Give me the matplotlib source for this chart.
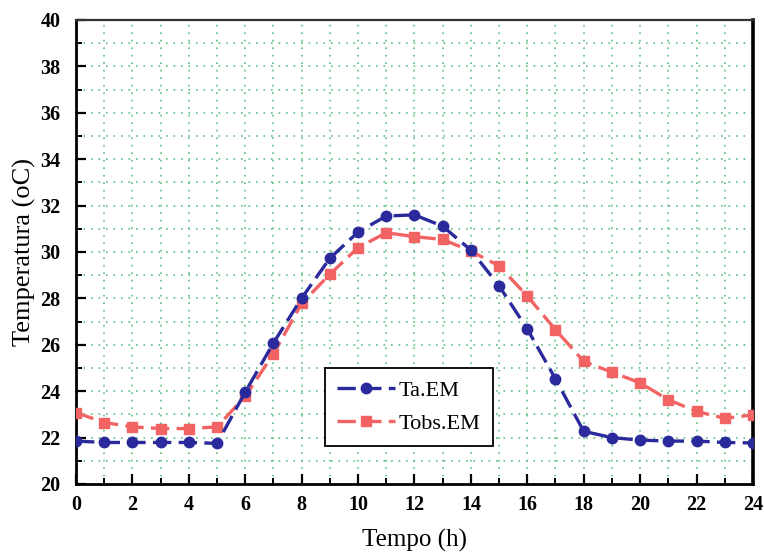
import matplotlib
matplotlib.use("Agg")
import matplotlib.pyplot as plt
from matplotlib.ticker import MultipleLocator

hours = list(range(0, 25))
ta_em = [21.85, 21.79, 21.79, 21.79, 21.79, 21.75, 23.96, 26.08, 28.01, 29.73,
         30.86, 31.55, 31.6, 31.11, 30.08, 28.54, 26.68, 24.53, 22.27, 22.0,
         21.89, 21.85, 21.85, 21.79, 21.77]
tobs_em = [23.08, 22.65, 22.46, 22.39, 22.39, 22.46, 23.78, 25.61, 27.78, 29.04,
           30.19, 30.83, 30.66, 30.54, 30.04, 29.4, 28.1, 26.65, 25.28, 24.82,
           24.36, 23.63, 23.13, 22.83, 22.98]
series_labels = ["Ta.EM", "Tobs.EM"]
xlabel = "Tempo (h)"
ylabel = "Temperatura (oC)"

plt.rcParams['font.family'] = ['Liberation Serif', 'DejaVu Serif']

fig = plt.figure(figsize=(7.64, 5.52), dpi=100)
ax = fig.add_axes([0.0995, 0.1232, 0.886, 0.8406])

blue = "#2a2a9c"
red = "#f26464"
ax.plot(hours, ta_em, color=blue, linestyle=(0, (5.5, 2.2)), linewidth=2.4,
        marker='o', markersize=7.5, markerfacecolor=blue, markeredgecolor=blue,
        label=series_labels[0], zorder=4)
ax.plot(hours, tobs_em, color=red, linestyle=(0, (5.5, 2.2)), linewidth=2.4,
        marker='s', markersize=7.2, markerfacecolor=red, markeredgecolor=red,
        label=series_labels[1], zorder=3)

ax.set_xlim(0, 24)
ax.set_ylim(20, 40)
ax.xaxis.set_major_locator(MultipleLocator(2))
ax.xaxis.set_minor_locator(MultipleLocator(1))
ax.yaxis.set_major_locator(MultipleLocator(2))
ax.yaxis.set_minor_locator(MultipleLocator(1))
ax.tick_params(which='major', direction='in', length=7, width=1.6, labelsize=14.5)
ax.tick_params(axis='y', which='major', pad=11)
ax.tick_params(axis='x', which='major', pad=8)
ax.tick_params(which='minor', direction='in', length=4, width=1.4)
for lab in ax.get_xticklabels() + ax.get_yticklabels():
    lab.set_fontweight('bold')

ax.grid(True, which='both', color='#5cbf80', linestyle=(0, (1, 3.5)), linewidth=1.2)
ax.set_axisbelow(True)

for side in ['left', 'bottom']:
    ax.spines[side].set_linewidth(2.0)
ax.spines['right'].set_linewidth(2.6)
ax.spines['top'].set_linewidth(1.6)
ax.spines['top'].set_color('#333333')

ax.set_xlabel(xlabel, fontsize=18, labelpad=10)
ax.set_ylabel(ylabel, fontsize=19, labelpad=3)

leg = ax.legend(loc='lower left', bbox_to_anchor=(0.368, 0.0815), borderaxespad=0,
                fontsize=16, frameon=True, fancybox=False, edgecolor='black',
                framealpha=1, handlelength=2.6, borderpad=0.55, labelspacing=0.55,
                handletextpad=0.15)
leg.get_frame().set_linewidth(1.3)

fig.savefig("out.png", dpi=100)
